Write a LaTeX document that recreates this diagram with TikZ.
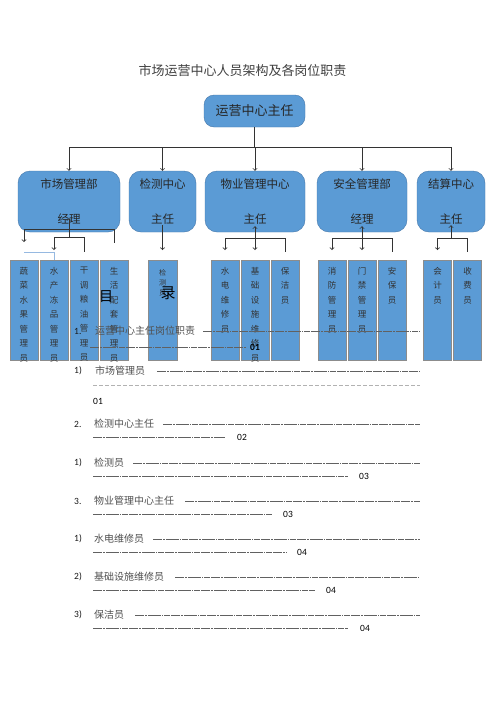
\documentclass[tikz,border=0pt]{standalone}
\usepackage{fontspec}
\setmainfont{Carlito}
\newfontfamily\cjk{Noto Sans CJK SC}
\XeTeXlinebreaklocale "zh"
\XeTeXlinebreakskip=0pt plus 1pt
\definecolor{boxblue}{RGB}{91,155,213}
\definecolor{boxline}{RGB}{70,120,170}
\definecolor{staffline}{RGB}{140,140,140}
\definecolor{tocgray}{RGB}{80,80,80}
\definecolor{paleblue}{RGB}{150,185,225}
\tikzset{
    head/.style={fill=boxblue, draw=boxline, line width=0.4pt, rounded corners=10pt,
        minimum width=101pt, minimum height=32pt, font=\cjk\fontsize{13}{13}\selectfont, text=black!85},
    dept/.style={fill=boxblue, draw=boxline, line width=0.4pt, rounded corners=12pt,
        minimum height=61pt, inner sep=0pt, align=center,
        font=\cjk\fontsize{11.5}{11.5}\selectfont, text=black!85},
    staff/.style={fill=boxblue, draw=staffline, line width=0.7pt, minimum width=28pt,
        minimum height=100pt, anchor=north, inner sep=0pt},
    stafftext/.style={anchor=north, inner sep=0pt, yshift=-7pt, align=center, text width=10pt,
        font=\cjk\fontsize{8.5}{14.5}\selectfont, text=black!80},
    toctext/.style={anchor=west, inner sep=0pt, font=\cjk\fontsize{10}{10}\selectfont, text=tocgray},
    tocnum/.style={anchor=west, inner sep=0pt, font=\fontsize{9.5}{9.5}\selectfont, text=black!90},
    tocpage/.style={anchor=west, inner sep=0pt, font=\fontsize{9.5}{9.5}\selectfont, text=black},
    leader/.style={draw=black!62, line width=0.7pt,
        dash pattern=on 9pt off 1pt on 2pt off 1pt on 13pt off 1pt on 1pt off 1pt on 6pt off 1pt},
    link/.style={draw=black!80, line width=0.8pt},
}

\begin{document}
\begin{tikzpicture}[x=1pt, y=-1pt, >=to]
    \useasboundingbox[fill=white] (0,0) rectangle (496,702);
    \node[font=\cjk\fontsize{13}{13}\selectfont, text=black!75] (title) at (242.5,71)
        {市场运营中心人员架构及各岗位职责};
    \node[head] (boss) at (254.5,111) {运营中心主任};
    \coordinate (bus) at (0,147);
    \node[dept, minimum width=102pt] (mkt) at (69,201.5) {市场管理部\\[23pt]经理};
    \node[dept, minimum width=67pt] (chk) at (162.5,201.5) {检测中心\\[23pt]主任};
    \node[dept, minimum width=100pt] (prop) at (255,201.5) {物业管理中心\\[23pt]主任};
    \node[dept, minimum width=90pt] (safe) at (362,201.5) {安全管理部\\[23pt]经理};
    \node[dept, minimum width=68pt] (calc) at (451,201.5) {结算中心\\[23pt]主任};
    \foreach \nm/\xx/\lbl in {
        veg/24/蔬菜水果管理员,
        aqua/54/水产冻品管理员,
        dry/84/干调粮油管理员,
        life/114/生活配套管理员,
        elec/225/水电维修员,
        infra/255/基础设施维修员,
        clean/285/保洁员,
        fire/332/消防管理员,
        gate/362/门禁管理员,
        guard/392/安保员,
        cash/437.5/会计员,
        fee/467.5/收费员
    } {
        \node[staff] (\nm) at (\xx,260) {};
        \node[stafftext] (\nm-t) at (\nm.north) {\lbl};
    }
    \node[staff, minimum width=29pt] (tester) at (162.5,260) {};
    \node[stafftext, yshift=-2pt, font=\cjk\fontsize{7}{10}\selectfont] (tester-t) at (tester.north)
        {检测员};
    \draw[link]
        (boss.south) -- (boss.south |- bus)
        (mkt.north |- bus) -- (calc.north |- bus);
    \foreach \nm in {mkt, chk, prop, safe, calc}
        \draw[link, ->] (\nm.north |- bus) -- (\nm.north);
    \coordinate (mbus) at (0,229);
    \coordinate (mbus2) at (0,237);
    \coordinate (pbus) at (0,238);
    \draw[link, <-] ([yshift=18pt]veg.north) |- (mbus -| life.north) -- ([yshift=17pt]life.north);
    \draw[link, ->] (mkt.south |- mbus2) -- ([yshift=14pt]mkt.south);
    \draw[link, <-] ([yshift=10pt]aqua.north) |- (mbus2 -| dry.north) -- ([yshift=8pt]dry.north);
    \draw[paleblue, line width=0.8pt] (aqua.north) -- ([yshift=8pt]aqua.north) -- ([yshift=8pt]veg.north);
    \draw[link, ->] ([yshift=7pt]chk.south) -- ([yshift=10pt]tester.north);
    \draw[link, <->] ([yshift=6pt]prop.south) -- ([yshift=10pt]infra.north);
    \draw[link, <-] ([yshift=10pt]elec.north) |- (pbus -| clean.north) -- ([yshift=8pt]clean.north);
    \draw[link, <->] ([yshift=6pt]safe.south) -- ([yshift=10pt]gate.north);
    \draw[link, <-] ([yshift=10pt]fire.north) |- (pbus -| guard.north) -- ([yshift=8pt]guard.north);
    \draw[link, ->] (pbus -| calc.south) -- ([yshift=7pt]calc.south);
    \draw[link, <-] ([yshift=10pt]cash.north) |- (pbus -| fee.north) -- ([yshift=8pt]fee.north);
    \node[font=\cjk\fontsize{14}{14}\selectfont] (mu) at (106,297) {目};
    \node[font=\cjk\fontsize{15}{15}\selectfont] (lu) at (168,293) {录};
    \node[tocnum] (n0) at (74,331) {1.};
    \node[toctext] (t0) at (95,331) {运营中心主任岗位职责};
    \draw[leader] (203,331) -- (420,331) (90,347) -- (246,347);
    \node[tocpage, font=\bfseries\fontsize{9.5}{9.5}\selectfont] (p0) at (250,347) {01};
    \node[tocnum] (n1) at (74,371) {1)};
    \node[toctext] (t1) at (95,371) {市场管理员};
    \draw[leader] (157,371) -- (420,371);
    \draw[leader, draw=black!30, dash pattern=on 4pt off 2pt] (93,385) -- (420,385);
    \node[tocpage] (p1) at (93,401) {01};
    \foreach \num/\txt/\yy/\aa/\bb/\pp/\pg [count=\i from 2] in {
        2./检测中心主任/424/163/225/237/02,
        1)/检测员/463/133/348/359/03,
        3./物业管理中心主任/501/185/273/283/03,
        1)/水电维修员/539/153/287/297/04,
        2)/基础设施维修员/577/175/315/326/04,
        3)/保洁员/615/135/348/360/04
    } {
        \node[tocnum] (n\i) at (74,\yy) {\num};
        \node[toctext] (t\i) at (94,\yy) {\txt};
        \draw[leader] (\aa,\yy) -- (420,\yy) (93,\yy+13.5) -- (\bb,\yy+13.5);
        \node[tocpage] (p\i) at (\pp,\yy+13.5) {\pg};
    }
\end{tikzpicture}
\end{document}
